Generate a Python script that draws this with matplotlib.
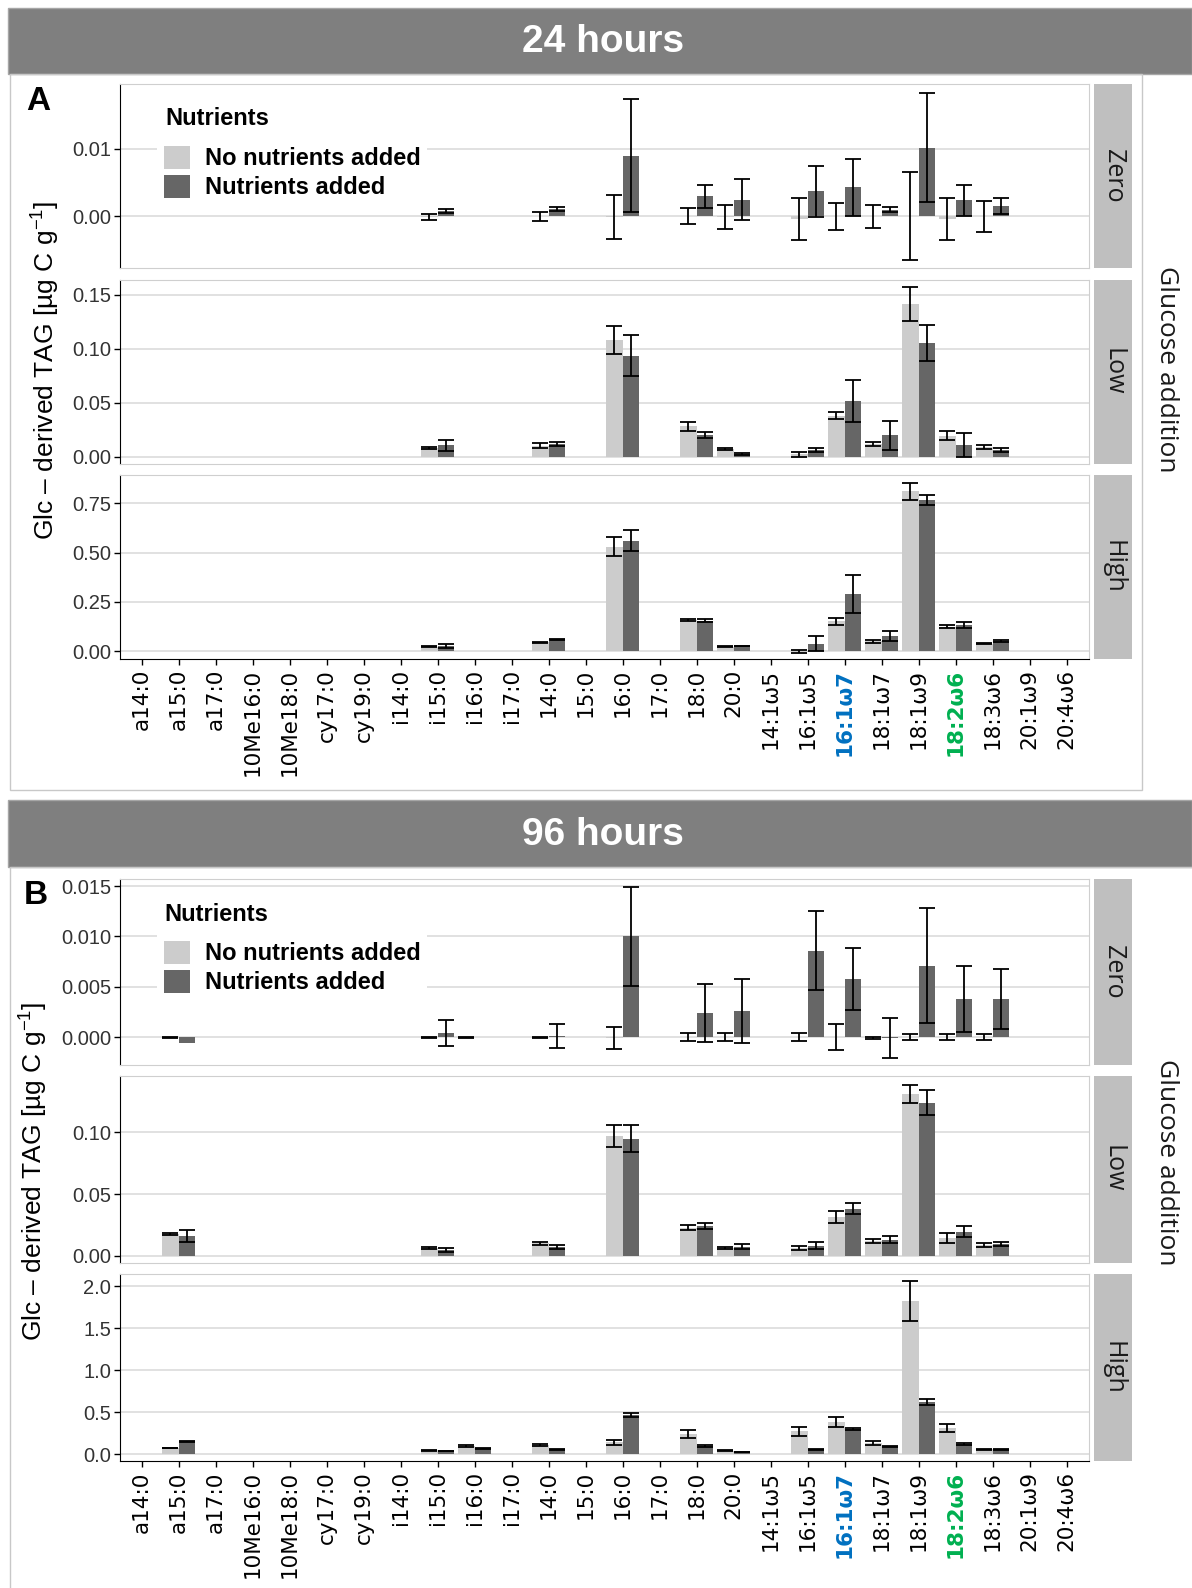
import numpy as np
import matplotlib.pyplot as plt
from matplotlib.patches import Rectangle, Patch

plt.rcParams['font.family'] = ['Liberation Sans', 'DejaVu Sans']
plt.rcParams['mathtext.fontset'] = 'custom'
plt.rcParams['mathtext.rm'] = 'Liberation Sans'
plt.rcParams['mathtext.it'] = 'Liberation Sans:italic'

nan = np.nan

# fatty acid markers on the x axis
fames = ['a14:0', 'a15:0', 'a17:0', '10Me16:0', '10Me18:0', 'cy17:0', 'cy19:0',
         'i14:0', 'i15:0', 'i16:0', 'i17:0', '14:0', '15:0', '16:0', '17:0',
         '18:0', '20:0', '14:1ω5', '16:1ω5', '16:1ω7', '18:1ω7', '18:1ω9',
         '18:2ω6', '18:3ω6', '20:1ω9', '20:4ω6']
label_colors = {'16:1ω7': '#0070C0', '18:2ω6': '#00B050'}

# ---- 24 hours ----
fames_24 = ['i15:0', '14:0', '16:0', '18:0', '20:0', '16:1ω5', '16:1ω7',
            '18:1ω7', '18:1ω9', '18:2ω6', '18:3ω6']

zero24_no_mean = [-0.0001, 0.0000, -0.0001, 0.0000, -0.0001, -0.0004, 0.0000, 0.0000, 0.0001, -0.0004, 0.0000]
zero24_no_se = [0.00045, 0.0007, 0.0032, 0.0012, 0.0018, 0.0031, 0.0020, 0.0017, 0.0065, 0.0031, 0.0023]
zero24_nut_mean = [0.0008, 0.0011, 0.0090, 0.0030, 0.0025, 0.0037, 0.0043, 0.0010, 0.0102, 0.0024, 0.0015]
zero24_nut_se = [0.0003, 0.0003, 0.0084, 0.0017, 0.0030, 0.0038, 0.0042, 0.0004, 0.0081, 0.0023, 0.0012]

low24_no_mean = [0.0080, 0.0100, 0.1080, 0.0280, 0.0071, 0.0022, 0.0380, 0.0120, 0.1414, 0.0195, 0.0087]
low24_no_se = [0.0010, 0.0024, 0.0133, 0.0039, 0.0006, 0.0025, 0.0030, 0.0020, 0.0154, 0.0040, 0.0019]
low24_nut_mean = [0.0105, 0.0120, 0.0936, 0.0200, 0.0025, 0.0060, 0.0513, 0.0198, 0.1050, 0.0110, 0.0060]
low24_nut_se = [0.0052, 0.0020, 0.0193, 0.0030, 0.0005, 0.0018, 0.0195, 0.0133, 0.0166, 0.0110, 0.0020]

high24_no_mean = [0.022, 0.046, 0.530, 0.158, 0.023, -0.002, 0.151, 0.050, 0.810, 0.124, 0.038]
high24_no_se = [0.002, 0.002, 0.050, 0.007, 0.002, 0.009, 0.017, 0.006, 0.044, 0.007, 0.003]
high24_nut_mean = [0.027, 0.058, 0.561, 0.155, 0.026, 0.038, 0.290, 0.076, 0.768, 0.133, 0.052]
high24_nut_se = [0.010, 0.002, 0.054, 0.009, 0.002, 0.038, 0.097, 0.025, 0.025, 0.013, 0.004]

# ---- 96 hours ----
fames_96 = ['a15:0', 'i15:0', 'i16:0', '14:0', '16:0', '18:0', '20:0', '16:1ω5',
            '16:1ω7', '18:1ω7', '18:1ω9', '18:2ω6', '18:3ω6']

zero96_no_mean = [0.0, 0.0, 0.0, 0.0, -0.0001, 0.0, 0.0, 0.0, 0.0, -0.00005, 0.0, 0.0, 0.0]
zero96_no_se = [0.00005, 0.00005, 0.00005, 0.00005, 0.0011, 0.0004, 0.0004, 0.0004, 0.0013, 0.0001, 0.0003, 0.0003, 0.0003]
zero96_nut_mean = [-0.0006, 0.0004, nan, 0.0001, 0.0100, 0.0024, 0.0026, 0.0086, 0.0058, -0.0001, 0.0071, 0.0038, 0.0038]
zero96_nut_se = [nan, 0.0013, nan, 0.0012, 0.0049, 0.0029, 0.0032, 0.0039, 0.0031, 0.0020, 0.0057, 0.0033, 0.0030]

low96_no_mean = [0.0175, 0.0065, nan, 0.0104, 0.097, 0.0227, 0.0065, 0.0064, 0.0316, 0.0120, 0.131, 0.0147, 0.0088]
low96_no_se = [0.0008, 0.0010, nan, 0.0012, 0.009, 0.0020, 0.0008, 0.0016, 0.0050, 0.0013, 0.0073, 0.0040, 0.0016]
low96_nut_mean = [0.0160, 0.0050, nan, 0.0075, 0.095, 0.0245, 0.0075, 0.0082, 0.0383, 0.0130, 0.124, 0.0197, 0.0097]
low96_nut_se = [0.0050, 0.0015, nan, 0.0017, 0.011, 0.0025, 0.0020, 0.0030, 0.0043, 0.0027, 0.010, 0.0043, 0.0018]

high96_no_mean = [0.075, 0.050, 0.100, 0.110, 0.146, 0.240, 0.045, 0.276, 0.386, 0.130, 1.824, 0.310, 0.060]
high96_no_se = [0.005, 0.005, 0.010, 0.010, 0.030, 0.046, 0.005, 0.052, 0.058, 0.024, 0.236, 0.046, 0.003]
high96_nut_mean = [0.150, 0.040, 0.065, 0.060, 0.470, 0.100, 0.025, 0.060, 0.296, 0.092, 0.624, 0.122, 0.060]
high96_nut_se = [0.008, 0.005, 0.005, 0.005, 0.022, 0.012, 0.003, 0.004, 0.012, 0.008, 0.040, 0.014, 0.003]

LIGHT = '#cccccc'
DARK = '#666666'
ylabel = 'Glc – derived TAG [µg C g$^{-1}$]'

# layout is worked out in reference pixels (1177 x 1568 view)
W, H = 1177.0, 1568.0


def box(x0, y0, x1, y1):
    return [x0 / W, 1 - y1 / H, (x1 - x0) / W, (y1 - y0) / H]


fig = plt.figure(figsize=(11.92, 15.88), dpi=100)


def draw_facet(y0, y1, sub, no_m, no_s, nu_m, nu_s, ylim, yticks, fmt, bottom):
    ax = fig.add_axes(box(118, y0, 1075, y1))
    pos = np.array([fames.index(f) for f in sub], dtype=float)
    ax.set_axisbelow(True)
    ax.yaxis.grid(True, color='#dcdcdc', lw=1.2)
    for m, s, off, col in [(no_m, no_s, -0.225, LIGHT), (nu_m, nu_s, 0.225, DARK)]:
        m = np.array(m, dtype=float)
        s = np.array(s, dtype=float)
        ok = np.isfinite(m)
        ax.bar(pos[ok] + off, m[ok], width=0.45, color=col, zorder=2)
        ok = ok & np.isfinite(s)
        ax.errorbar(pos[ok] + off, m[ok], yerr=s[ok], fmt='none', ecolor='black',
                    elinewidth=1.3, capsize=5.5, capthick=1.3, zorder=3)
    ax.set_xlim(-0.6, len(fames) - 0.4)
    ax.set_ylim(*ylim)
    ax.set_yticks(yticks)
    ax.set_yticklabels([fmt % v for v in yticks])
    ax.tick_params(axis='y', length=4, width=1, color='black', labelsize=14.5,
                   labelcolor='#333333', pad=2)
    for side in ['top', 'right', 'bottom']:
        ax.spines[side].set_color('#cfcfcf')
    ax.spines['left'].set_color('black')
    ax.set_xticks(range(len(fames)))
    if bottom:
        ax.spines['bottom'].set_color('black')
        ax.set_xticklabels(fames, rotation=90, fontsize=15.5, family='DejaVu Sans')
        ax.tick_params(axis='x', length=4, width=1, color='black', pad=3)
        for t in ax.get_xticklabels():
            if t.get_text() in label_colors:
                t.set_color(label_colors[t.get_text()])
                t.set_fontweight('bold')
    else:
        ax.tick_params(axis='x', length=0, labelbottom=False)
    return ax


def draw_strip(y0, y1, text):
    s = fig.add_axes(box(1080, y0, 1118, y1))
    s.set_facecolor('#bfbfbf')
    s.set_xticks([])
    s.set_yticks([])
    for sp in s.spines.values():
        sp.set_visible(False)
    s.text(0.5, 0.5, text, rotation=-90, ha='center', va='center', fontsize=18,
           family='Open Sans', color='#1a1a1a', transform=s.transAxes)


def add_legend(ax, title_x, title_y, top):
    handles = [Patch(facecolor=LIGHT, edgecolor='none', label='No nutrients added'),
               Patch(facecolor=DARK, edgecolor='none', label='Nutrients added')]
    ax.legend(handles=handles, loc='upper left',
              bbox_to_anchor=(0.039, top), prop={'weight': 'bold', 'size': 17},
              frameon=True, facecolor='white', edgecolor='none', framealpha=1,
              fancybox=False, handlelength=1.1, handleheight=1.1,
              handletextpad=0.6, labelspacing=0.2, borderpad=0.3,
              borderaxespad=0)
    ax.text(title_x, title_y, 'Nutrients', transform=ax.transAxes, fontsize=17,
            fontweight='bold', ha='left', va='center')


# frames and banners
for top, bot, title, ty in [(8, 73, '24 hours', 41), (790, 856, '96 hours', 824)]:
    fig.add_artist(Rectangle((8 / W, 1 - bot / H), (1177 - 8) / W, (bot - top) / H,
                             transform=fig.transFigure, facecolor='#7f7f7f',
                             edgecolor='#a6a6a6', lw=1))
    fig.text(595 / W, 1 - ty / H, title, color='white', fontsize=28,
             fontweight='bold', ha='center', va='center')
fig.add_artist(Rectangle((10 / W, 1 - 780 / H), 1118 / W, 707 / H,
                         transform=fig.transFigure, facecolor='none',
                         edgecolor='#c8c8c8', lw=1))
fig.add_artist(Rectangle((10 / W, -0.01), 1200 / W, 1 - 856 / H + 0.01,
                         transform=fig.transFigure, facecolor='none',
                         edgecolor='#c8c8c8', lw=1))

# panel A: 24 hours
axA = draw_facet(83, 265, fames_24, zero24_no_mean, zero24_no_se, zero24_nut_mean,
                 zero24_nut_se, (-0.0077, 0.0196), [0.0, 0.01], '%.2f', False)
add_legend(axA, 0.047, 0.813, 0.703)
draw_facet(276, 458, fames_24, low24_no_mean, low24_no_se, low24_nut_mean,
           low24_nut_se, (-0.0066, 0.164), [0.0, 0.05, 0.10, 0.15], '%.2f', False)
draw_facet(469, 651, fames_24, high24_no_mean, high24_no_se, high24_nut_mean,
           high24_nut_se, (-0.041, 0.893), [0.0, 0.25, 0.50, 0.75], '%.2f', True)
draw_strip(83, 265, 'Zero')
draw_strip(276, 458, 'Low')
draw_strip(469, 651, 'High')

# panel B: 96 hours
axB = draw_facet(868, 1052, fames_96, zero96_no_mean, zero96_no_se, zero96_nut_mean,
                 zero96_nut_se, (-0.0028, 0.0157), [0.0, 0.005, 0.010, 0.015], '%.3f', False)
add_legend(axB, 0.046, 0.810, 0.706)
draw_facet(1062, 1247, fames_96, low96_no_mean, low96_no_se, low96_nut_mean,
           low96_nut_se, (-0.0057, 0.146), [0.0, 0.05, 0.10], '%.2f', False)
draw_facet(1258, 1443, fames_96, high96_no_mean, high96_no_se, high96_nut_mean,
           high96_nut_se, (-0.084, 2.145), [0.0, 0.5, 1.0, 1.5, 2.0], '%.1f', True)
draw_strip(868, 1052, 'Zero')
draw_strip(1062, 1247, 'Low')
draw_strip(1258, 1443, 'High')

# panel letters and shared axis titles
fig.text(38 / W, 1 - 100 / H, 'A', fontsize=24, fontweight='bold', ha='center', va='center')
fig.text(35 / W, 1 - 884 / H, 'B', fontsize=24, fontweight='bold', ha='center', va='center')
fig.text(45 / W, 1 - 366 / H, ylabel, rotation=90, fontsize=19, ha='center', va='center')
fig.text(33 / W, 1 - 1157 / H, ylabel, rotation=90, fontsize=19, ha='center', va='center')
for yc in [365, 1148]:
    fig.text(1152 / W, 1 - yc / H, 'Glucose addition', rotation=-90, fontsize=19,
             family='Open Sans', ha='center', va='center', color='#1a1a1a')

fig.savefig('out.png', dpi=100)
